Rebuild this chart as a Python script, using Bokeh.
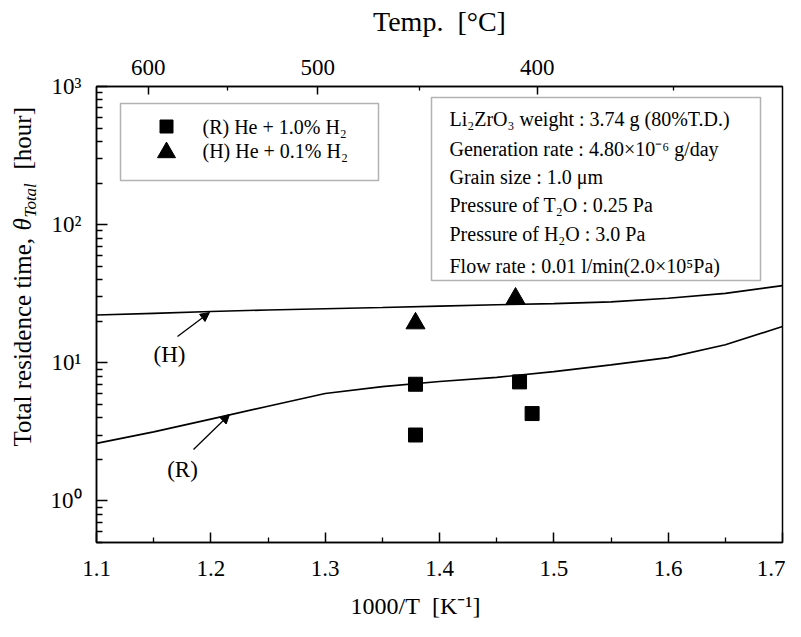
import math
from bokeh.plotting import figure
from bokeh.layouts import row
from bokeh.models import (LinearAxis, FixedTicker, Label, Arrow, NormalHead,
                          BoxAnnotation, Range1d)
from bokeh.embed import file_html
from bokeh.resources import INLINE

# ---------------- data ----------------
x_curve = [1.10, 1.15, 1.20, 1.25, 1.30, 1.35, 1.40, 1.45, 1.50, 1.55, 1.60, 1.65, 1.70]
theta_R_curve = [2.61, 3.16, 3.91, 4.85, 6.0, 6.72, 7.32, 7.84, 8.63, 9.65, 10.9, 13.5, 18.3]
theta_H_curve = [22.2, 22.8, 23.5, 24.1, 24.6, 25.1, 25.7, 26.3, 26.8, 27.6, 29.3, 31.8, 36.2]

R_x = [1.379, 1.379, 1.470, 1.481]
R_y = [6.99, 3.0, 7.27, 4.29]
H_x = [1.379, 1.4665]
H_y = [19.3, 29.2]

x_major = [1.1, 1.2, 1.3, 1.4, 1.5, 1.6, 1.7]
x_minor = [1.15, 1.25, 1.35, 1.45, 1.55, 1.65]
y_major = [1.0, 10.0, 100.0, 1000.0]
y_labels = ["10⁰", "10¹", "10²", "10³"]
temp_major = [600, 500, 400]
temp_minor = [550, 450, 350]

legend_labels = ["(R) He + 1.0% H₂", "(H) He + 0.1% H₂"]
info_lines = [
    "Li₂ZrO₃ weight : 3.74 g (80%T.D.)",
    "Generation rate : 4.80×10⁻⁶ g/day",
    "Grain size : 1.0 μm",
    "Pressure of T₂O : 0.25 Pa",
    "Pressure of H₂O : 3.0 Pa",
    "Flow rate : 0.01 l/min(2.0×10⁵Pa)",
]
NB = "\u00a0"
x_title = "1000/T" + NB * 2 + "[K⁻¹]" + NB * 8
top_title = "Temp." + NB * 2 + "[°C]"

X0, X1 = 1.1, 1.7
Y0, Y1 = 0.5, 1000.0
FONT = "Liberation Serif"

# reference frame geometry in picture pixels (used to place annotations)
RL, RR, RT, RB = 97, 783, 90, 546
# where the frame is drawn (picture pixels), canvas origin, strip width, sizes
FT = 88
OX, OY = 1, 2
TW = 40
TOTAL_W = 785
TOTAL_H = 621


def px_x(px):
    return X0 + (px - RL) / (RR - RL) * (X1 - X0)


def px_y(py):
    l0, l1 = math.log10(Y0), math.log10(Y1)
    return 10 ** (l1 - (py - RT) / (RB - RT) * (l1 - l0))


frame_w, frame_h = RR - RL, RB - RT
b_left = RL - OX - TW
b_top = FT - OY
b_right = TOTAL_W - TW - b_left - frame_w
b_bottom = TOTAL_H - b_top - frame_h

p = figure(
    frame_width=frame_w, frame_height=frame_h,
    min_border_left=b_left, min_border_top=b_top,
    min_border_right=b_right, min_border_bottom=b_bottom,
    x_range=Range1d(X0, X1), y_range=Range1d(Y0, Y1),
    y_axis_type="log", output_backend="svg", toolbar_location=None,
    background_fill_color="white", border_fill_color="white",
)
p.grid.visible = False
p.outline_line_color = "black"
p.outline_line_width = 1.5


def style_axis(ax, tick_font="23px"):
    ax.axis_line_width = 1.5
    ax.axis_line_color = "black"
    ax.major_tick_in = 10
    ax.major_tick_out = 0
    ax.minor_tick_in = 5
    ax.minor_tick_out = 0
    ax.major_tick_line_width = 1.5
    ax.minor_tick_line_width = 1.3
    ax.major_label_text_font = FONT
    ax.major_label_text_font_size = tick_font
    ax.major_label_text_color = "black"
    ax.axis_label_text_font = FONT
    ax.axis_label_text_font_style = "normal"
    ax.axis_label_text_color = "black"


# bottom axis
xa = p.xaxis[0]
xa.ticker = FixedTicker(ticks=x_major, minor_ticks=x_minor)
style_axis(xa)
xa.major_label_standoff = 18
xa.axis_label = x_title
xa.axis_label_text_font_size = "24px"
xa.axis_label_standoff = 14

# left axis
ya = p.yaxis[0]
y_minor = [k * 10 ** e for e in range(-1, 3) for k in range(2, 10) if Y0 <= k * 10 ** e <= Y1]
ya.ticker = FixedTicker(ticks=y_major, minor_ticks=y_minor)
style_axis(ya)
ya.major_label_overrides = {v: s for v, s in zip(y_major, y_labels)}
ya.major_label_standoff = 15
ya.major_tick_in = 11
ya.minor_tick_in = 6

# top axis: temperature in deg C
top_pos = [round(1000.0 / (t + 273.15), 5) for t in temp_major]
top_minor_pos = [round(1000.0 / (t + 273.15), 5) for t in temp_minor]
ta = LinearAxis(ticker=FixedTicker(ticks=top_pos, minor_ticks=top_minor_pos))
style_axis(ta)
ta.major_tick_in = 8
ta.minor_tick_in = 4
ta.major_label_overrides = {v: str(t) for v, t in zip(top_pos, temp_major)}
ta.major_label_standoff = 12
ta.axis_label = top_title
ta.axis_label_text_font_size = "28px"
ta.axis_label_standoff = 20
p.add_layout(ta, "above")

# curves
p.line(x_curve, theta_H_curve, line_color="black", line_width=1.6)
p.line(x_curve, theta_R_curve, line_color="black", line_width=1.6)

# data points
p.scatter(R_x, R_y, marker="square", size=14, fill_color="black", line_color="black")
p.scatter(H_x, H_y, marker="triangle", size=19, fill_color="black", line_color="black")

# curve annotations
for lbl, (tx, ty), (ax0, ay0), (ax1, ay1) in [
    ("(H)", (170, 358), (178, 340), (210, 316)),
    ("(R)", (183, 473), (194, 453), (230, 418)),
]:
    p.add_layout(Label(x=px_x(tx), y=px_y(ty), text=lbl, text_font=FONT,
                       text_font_size="23px", text_align="center",
                       text_baseline="middle", text_color="black"))
    p.add_layout(Arrow(end=NormalHead(size=9, fill_color="black", line_color="black"),
                       x_start=px_x(ax0), y_start=px_y(ay0),
                       x_end=px_x(ax1), y_end=px_y(ay1),
                       line_color="black", line_width=1.3))

# legend box (drawn by hand)
p.add_layout(BoxAnnotation(left=px_x(121), right=px_x(379), top=px_y(107), bottom=px_y(184),
                           fill_alpha=0, line_color="black", line_width=1.5))
p.scatter([px_x(167)], [px_y(130)], marker="square", size=13, fill_color="black", line_color="black")
p.scatter([px_x(167)], [px_y(156)], marker="triangle", size=18, fill_color="black", line_color="black")
for lbl, cy in zip(legend_labels, [130, 154]):
    p.add_layout(Label(x=px_x(203), y=px_y(cy), text=lbl, text_font=FONT,
                       text_font_size="20px", text_align="left",
                       text_baseline="middle", text_color="black"))

# info box
p.add_layout(BoxAnnotation(left=px_x(432), right=px_x(761), top=px_y(101), bottom=px_y(284),
                           fill_alpha=0, line_color="black", line_width=1.5))
for lbl, cy in zip(info_lines, [122, 152, 180, 208, 237, 269]):
    p.add_layout(Label(x=px_x(450), y=px_y(cy), text=lbl, text_font=FONT,
                       text_font_size="20px", text_align="left",
                       text_baseline="middle", text_color="black"))

# strip on the left holding the y title, built from pieces (rotated).
# Its frame is aligned with the main frame by the row layout, so its
# y range is expressed directly in picture pixels (top = FT).
t = figure(width=TW, height=TOTAL_H, x_range=Range1d(0, TW),
           y_range=Range1d(FT + frame_h, FT),
           x_axis_location=None, y_axis_location=None, min_border=0,
           output_backend="svg", toolbar_location=None,
           background_fill_color="white", border_fill_color="white")
t.grid.visible = False
t.outline_line_color = None
ytitle = [
    ("Total residence time,", 23, 448, "25px", "normal"),
    ("θ", 23, 232, "25px", "italic"),
    ("Total", 31, 219, "17px", "italic"),
    ("[hour]", 23, 171, "25px", "normal"),
]
for txt, cx, sy, fs, st in ytitle:
    t.add_layout(Label(x=cx - OX, y=sy, text=txt, text_font=FONT,
                       text_font_size=fs, text_font_style=st, angle=math.pi / 2,
                       text_align="left", text_baseline="middle", text_color="black"))

layout = row(t, p)
open("out.html", "w").write(file_html(layout, INLINE))
